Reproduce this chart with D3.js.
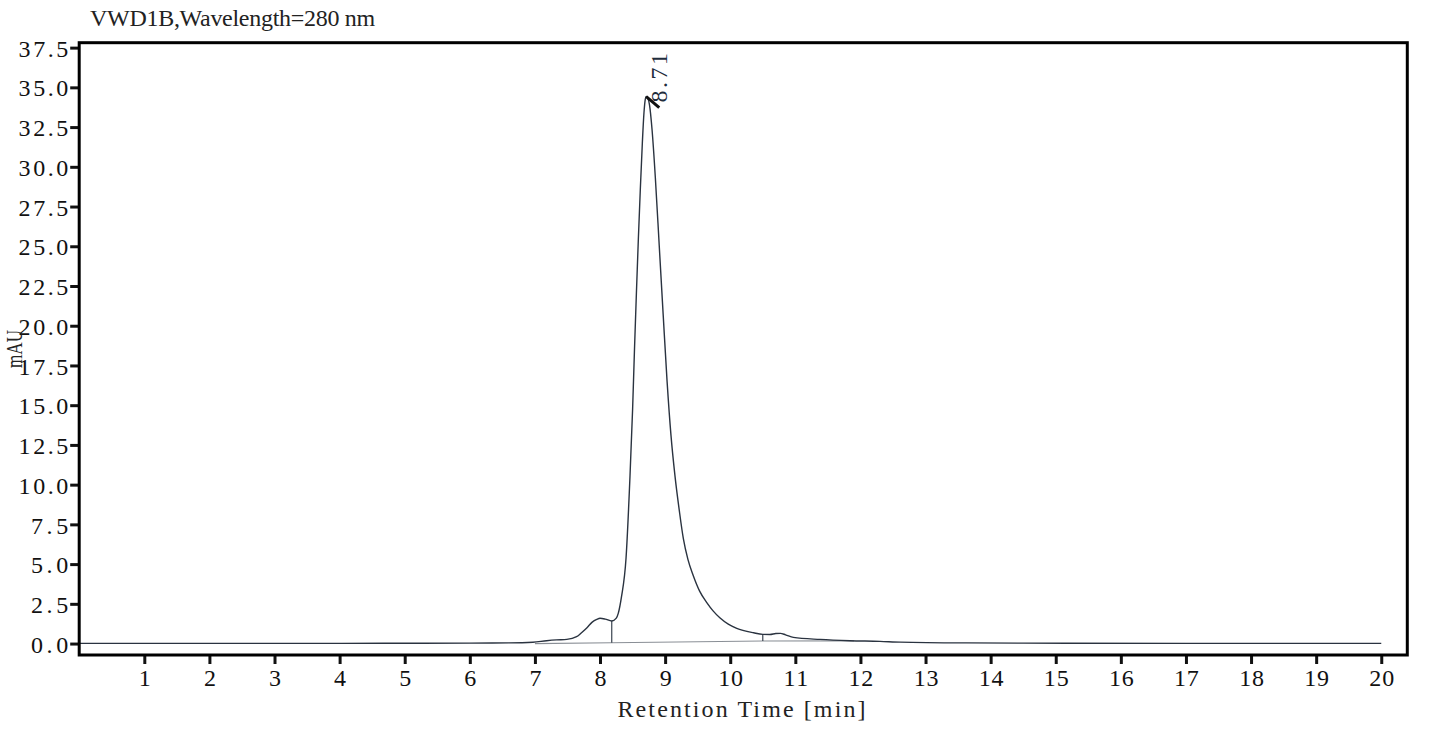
<!DOCTYPE html>
<html>
<head>
<meta charset="utf-8">
<script src="https://cdn.jsdelivr.net/npm/d3@7"></script>
<style>
  body { margin: 0; background: #fff; }
  text { font-family: "Liberation Serif", "DejaVu Serif", serif; }
</style>
</head>
<body>
<div id="wrapper"></div>
<script>
// retention time (min) and signal (mAU)
const retentionTimes = [0.00, 1.00, 2.00, 3.00, 4.00, 5.00, 6.00, 6.60, 6.97, 7.18,
    7.33, 7.49, 7.64, 7.72, 7.80, 7.88, 7.95, 8.00, 8.08, 8.18,
    8.25, 8.28, 8.33, 8.40, 8.46, 8.50, 8.53, 8.56, 8.59, 8.62,
    8.65, 8.675, 8.695, 8.71, 8.73, 8.76, 8.80, 8.85, 8.91, 8.97,
    9.03, 9.09, 9.15, 9.22, 9.28, 9.35, 9.43, 9.53, 9.64, 9.74,
    9.84, 9.97, 10.10, 10.36, 10.50, 10.61, 10.70, 10.77, 10.85, 10.97,
    11.38, 11.84, 12.30, 12.61, 13.63, 15.17, 17.00, 20.00];
const absorbance = [0.01, 0.01, 0.01, 0.01, 0.01, 0.02, 0.03, 0.04, 0.08, 0.18,
    0.23, 0.26, 0.43, 0.70, 1.00, 1.35, 1.52, 1.59, 1.54, 1.42,
    1.60, 1.90, 2.95, 5.40, 10.50, 14.70, 18.60, 22.20, 25.60, 28.70,
    31.50, 33.40, 34.25, 34.42, 34.35, 33.90, 32.30, 29.30, 25.00, 20.70,
    16.50, 13.10, 10.60, 8.30, 6.60, 5.30, 4.30, 3.30, 2.58, 2.04,
    1.62, 1.22, 0.96, 0.68, 0.58, 0.57, 0.63, 0.64, 0.55, 0.39,
    0.26, 0.18, 0.14, 0.09, 0.04, 0.02, 0.01, 0.01];

// integration baseline and peak drop lines
const baselineTimes = [7.00, 8.18, 10.50, 11.90];
const baselineValues = [0.00, 0.05, 0.16, 0.17];
const dropTimes = [8.18, 10.50];
const dropTops = [1.42, 0.58];
const dropBottoms = [0.05, 0.16];

const peakTimes = [8.71];
const peakHeights = [34.42];
const peakLabels = ["8.71"];

const xTicks = [1, 2, 3, 4, 5, 6, 7, 8, 9, 10, 11, 12, 13, 14, 15, 16, 17, 18, 19, 20];
const yTicks = [0, 2.5, 5, 7.5, 10, 12.5, 15, 17.5, 20, 22.5, 25, 27.5, 30, 32.5, 35, 37.5];

const titleText = "VWD1B,Wavelength=280 nm";
const xLabel = "Retention Time [min]";
const yLabel = "mAU";

function buildPlot() {
    const dimension = {
        width: 1445,
        height: 734,
        margin: { top: 42.7, left: 79.2, bottom: 79, right: 37.7 }
    };
    dimension.boundedWidth = dimension.width - dimension.margin.left - dimension.margin.right;
    dimension.boundedHeight = dimension.height - dimension.margin.top - dimension.margin.bottom;

    const cell = 12.4; // width of one character in the original monospace font
    const fontSize = 24;

    const svg = d3.select("#wrapper").append("svg")
        .attr("width", dimension.width)
        .attr("height", dimension.height);
    const bounded = svg.append("g")
        .attr("transform", `translate(${dimension.margin.left},${dimension.margin.top})`);

    const xScaler = d3.scaleLinear()
        .domain([0, 20.40])
        .range([0, dimension.boundedWidth]);
    const yScaler = d3.scaleLinear()
        .domain([-0.72, 37.81])
        .range([dimension.boundedHeight, 0]);

    // axes
    const xAxis = bounded.append("g")
        .attr("transform", `translate(0,${dimension.boundedHeight})`)
        .call(d3.axisBottom(xScaler).tickValues(xTicks).tickSize(9).tickPadding(7).tickFormat(d3.format("d")));
    const yAxis = bounded.append("g")
        .call(d3.axisLeft(yScaler).tickValues(yTicks).tickSize(9).tickPadding(2).tickFormat(d3.format(".1f")));

    [xAxis, yAxis].forEach(ax => {
        ax.select(".domain").remove();
        ax.selectAll(".tick line").attr("stroke", "#111").attr("stroke-width", 3);
        ax.selectAll(".tick text")
            .attr("fill", "#111")
            .style("font-size", fontSize + "px")
            .attr("textLength", d => cell * String(ax === xAxis ? d : d3.format(".1f")(d)).length)
            .attr("lengthAdjust", "spacing");
    });
    xAxis.selectAll(".tick text").attr("dy", "0.62em");
    yAxis.selectAll(".tick text").attr("dy", "0.36em");

    // integration baseline
    const baseLine = d3.line()
        .x((d, i) => xScaler(baselineTimes[i]))
        .y((d, i) => yScaler(baselineValues[i]));
    bounded.append("path")
        .attr("d", baseLine(baselineTimes))
        .attr("fill", "none")
        .attr("stroke", "#8a8f96")
        .attr("stroke-width", 1.2);

    bounded.selectAll(".drop")
        .data(dropTimes)
        .join("line")
        .attr("class", "drop")
        .attr("x1", d => xScaler(d))
        .attr("x2", d => xScaler(d))
        .attr("y1", (d, i) => yScaler(dropTops[i]))
        .attr("y2", (d, i) => yScaler(dropBottoms[i]))
        .attr("stroke", "#3a4350")
        .attr("stroke-width", 1.2);

    // chromatogram trace
    const lineGenerator = d3.line()
        .x((d, i) => xScaler(retentionTimes[i]))
        .y((d, i) => yScaler(absorbance[i]))
        .curve(d3.curveMonotoneX);
    bounded.append("path")
        .attr("d", lineGenerator(retentionTimes))
        .attr("fill", "none")
        .attr("stroke", "#2a3340")
        .attr("stroke-width", 1.4);

    // peak marker and label
    peakTimes.forEach((t, i) => {
        const px = xScaler(t), py = yScaler(peakHeights[i]);
        bounded.append("line")
            .attr("x1", px).attr("y1", py)
            .attr("x2", px + 13).attr("y2", py + 11)
            .attr("stroke", "#111")
            .attr("stroke-width", 3);
        bounded.append("text")
            .attr("transform", `translate(${px + 21},${py + 6}) rotate(-90)`)
            .attr("fill", "#1f2d3d")
            .style("font-size", fontSize + "px")
            .attr("textLength", cell * peakLabels[i].length)
            .attr("lengthAdjust", "spacing")
            .text(peakLabels[i]);
    });

    // frame
    bounded.append("rect")
        .attr("width", dimension.boundedWidth)
        .attr("height", dimension.boundedHeight)
        .attr("fill", "none")
        .attr("stroke", "#000")
        .attr("stroke-width", 3);

    // titles
    svg.append("text")
        .attr("x", 90)
        .attr("y", 26)
        .attr("fill", "#222")
        .style("font-size", fontSize + "px")
        .attr("textLength", cell * titleText.length)
        .attr("lengthAdjust", "spacing")
        .text(titleText);

    svg.append("text")
        .attr("x", 741.5)
        .attr("y", 716.5)
        .attr("text-anchor", "middle")
        .attr("fill", "#222")
        .style("font-size", fontSize + "px")
        .attr("textLength", cell * xLabel.length)
        .attr("lengthAdjust", "spacing")
        .text(xLabel);

    svg.append("text")
        .attr("transform", "translate(21.5,349) rotate(-90)")
        .attr("text-anchor", "middle")
        .attr("fill", "#222")
        .style("font-size", fontSize + "px")
        .attr("textLength", 38)
        .attr("lengthAdjust", "spacingAndGlyphs")
        .text(yLabel);
}

buildPlot();
</script>
</body>
</html>
